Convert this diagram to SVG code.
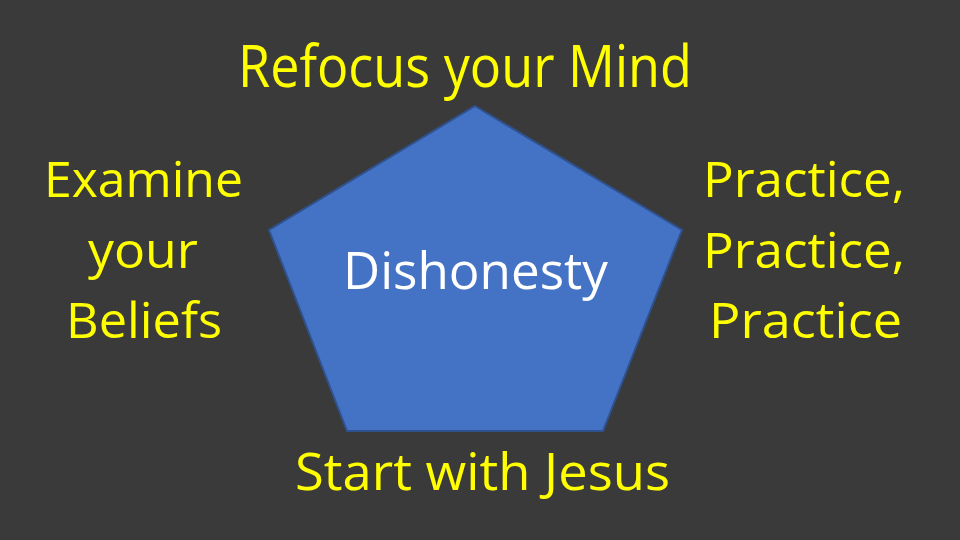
<svg xmlns="http://www.w3.org/2000/svg" width="960" height="540" viewBox="0 0 960 540">
<style>
.y{fill:#ffff00;font-family:"Open Sans","Liberation Sans",sans-serif;}
.w{fill:#ffffff;font-family:"Open Sans","Liberation Sans",sans-serif;}
</style>
<rect width="960" height="540" fill="#3a3a3a"/>
<g id="pentagon">
<polygon points="475,106 682,230 603,431 347,431 269,230" fill="#4472c4" stroke="#2f528f" stroke-width="2"/>
<text class="w" x="343" y="289" font-size="52" textLength="265" lengthAdjust="spacingAndGlyphs">Dishonesty</text>
</g>
<g id="top">
<text class="y" x="238" y="87" font-size="59" textLength="454" lengthAdjust="spacingAndGlyphs">Refocus your Mind</text>
</g>
<g id="left">
<text class="y" x="44" y="197" font-size="49" textLength="199" lengthAdjust="spacingAndGlyphs">Examine</text>
<text class="y" x="88" y="268" font-size="49" textLength="110" lengthAdjust="spacingAndGlyphs">your</text>
<text class="y" x="66" y="338" font-size="49" textLength="156" lengthAdjust="spacingAndGlyphs">Beliefs</text>
</g>
<g id="right">
<text class="y" x="703" y="197" font-size="49" textLength="202" lengthAdjust="spacingAndGlyphs">Practice,</text>
<text class="y" x="703" y="268" font-size="49" textLength="202" lengthAdjust="spacingAndGlyphs">Practice,</text>
<text class="y" x="709" y="338" font-size="49" textLength="193" lengthAdjust="spacingAndGlyphs">Practice</text>
</g>
<g id="bottom">
<text class="y" x="295" y="490" font-size="52" textLength="375" lengthAdjust="spacingAndGlyphs">Start with Jesus</text>
</g>
<g id="connectors"/>
</svg>
